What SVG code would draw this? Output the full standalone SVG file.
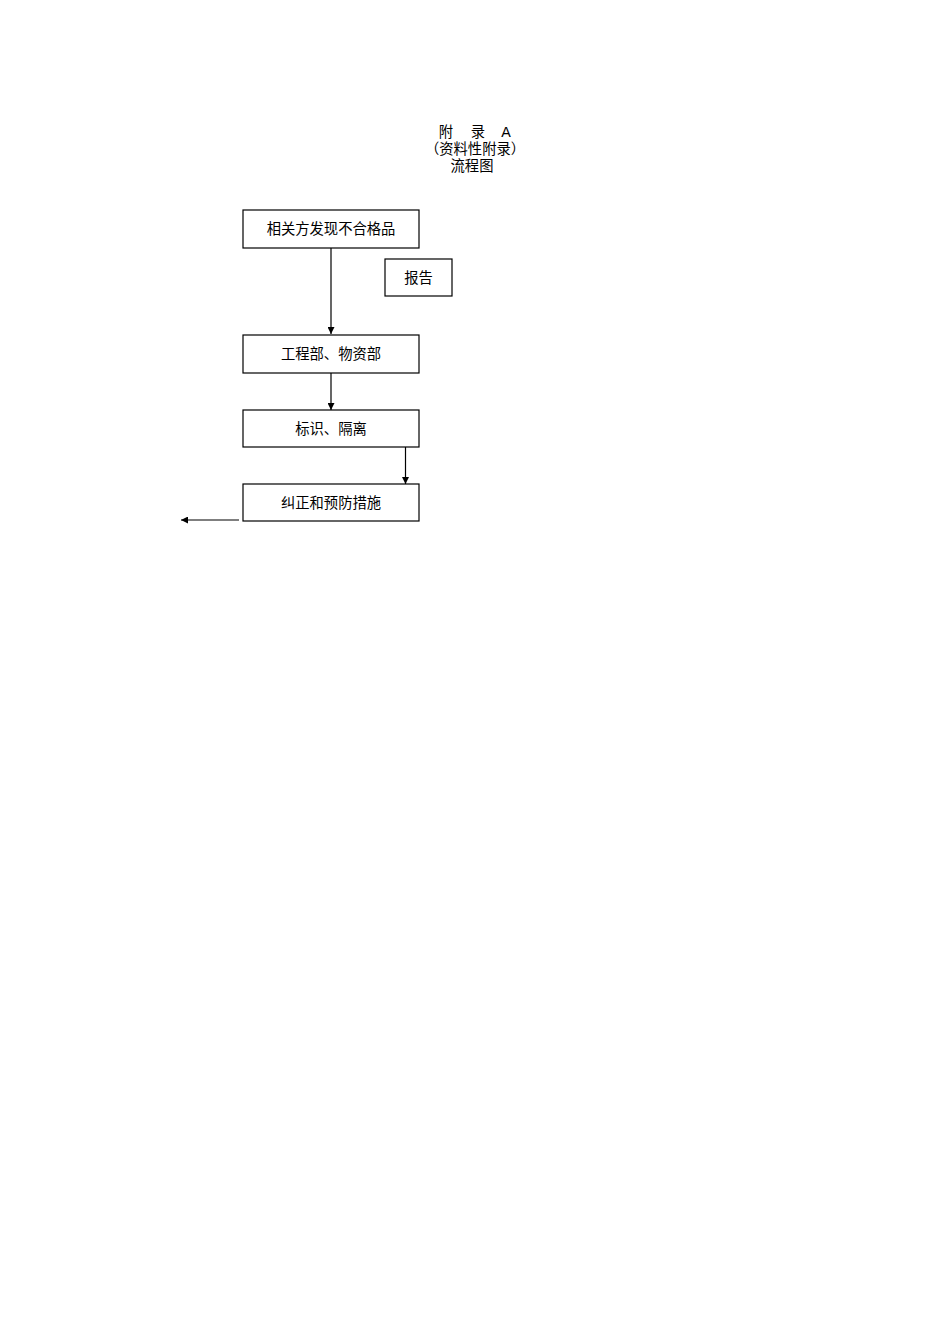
<svg xmlns="http://www.w3.org/2000/svg" width="950" height="1344" viewBox="0 0 950 1344">
<style>
text{font-family:"Liberation Sans","Noto Sans CJK SC",sans-serif;fill:#000}
.t{font-size:14.3px;text-anchor:middle}
.n{font-size:14.3px;text-anchor:middle;dominant-baseline:central}
.box{fill:#fff;stroke:#000;stroke-width:1.2}
.c{stroke:#000;stroke-width:1.2;fill:none;marker-end:url(#ah)}
</style>
<defs>
<marker id="ah" viewBox="0 0 10 10" refX="10" refY="5" markerWidth="7" markerHeight="7" markerUnits="userSpaceOnUse" orient="auto">
<path d="M0,0 L10,5 L0,10 z" fill="#000"/>
</marker>
</defs>
<rect width="950" height="1344" fill="#fff"/>
<g id="title">
<text class="t" y="137"><tspan x="446">附</tspan><tspan x="478">录</tspan><tspan x="506">A</tspan></text>
<text class="t" x="475" y="154">（资料性附录）</text>
<text class="t" x="472" y="171">流程图</text>
</g>
<g id="connectors">
<line class="c" x1="331" y1="248" x2="331" y2="334"/>
<line class="c" x1="331" y1="373" x2="331" y2="410"/>
<line class="c" x1="405.5" y1="447" x2="405.5" y2="484"/>
<line class="c" x1="239" y1="520" x2="181" y2="520"/>
</g>
<g id="n1"><rect class="box" x="243" y="210" width="176" height="38"/><text class="n" x="331" y="229">相关方发现不合格品</text></g>
<g id="n2"><rect class="box" x="385" y="259" width="67" height="37"/><text class="n" x="418.5" y="277.5">报告</text></g>
<g id="n3"><rect class="box" x="243" y="335" width="176" height="38"/><text class="n" x="331" y="354">工程部、物资部</text></g>
<g id="n4"><rect class="box" x="243" y="410" width="176" height="37"/><text class="n" x="331" y="428.5">标识、隔离</text></g>
<g id="n5"><rect class="box" x="243" y="484" width="176" height="37"/><text class="n" x="331" y="502.5">纠正和预防措施</text></g>
</svg>
